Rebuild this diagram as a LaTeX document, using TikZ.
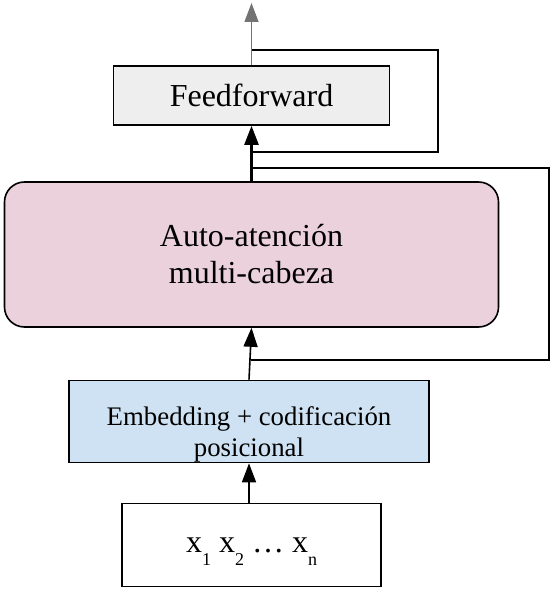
\documentclass[tikz,border=0pt]{standalone}
\usepackage{fontspec}
\setmainfont{Liberation Serif}
\usetikzlibrary{arrows.meta}

\definecolor{ffgray}{HTML}{EEEEEE}
\definecolor{attpink}{HTML}{EAD1DC}
\definecolor{embblue}{HTML}{CFE2F3}
\newcommand{\xsub}[1]{x\smash{\raisebox{-0.42em}{\fontsize{18}{18}\selectfont #1}}}

\begin{document}
\begin{tikzpicture}[x = 1pt, y = -1pt, line width = 1.6pt,
    >={Triangle[length = 19pt, width = 14pt]},
    box/.style = {draw, inner sep = 0pt, align = center}]
  \useasboundingbox (0, 0) rectangle (554, 593);
  \node (ff)  at (251.5,  95.5) [box, fill = ffgray, minimum width = 276pt, minimum height = 59pt,
    font = \fontsize{32}{37}\selectfont] {Feedforward};
  \node (att) at (251.5, 254.5) [box, fill = attpink, rounded corners = 20pt, minimum width = 494pt,
    minimum height = 145pt, font = \fontsize{32}{37}\selectfont] {Auto-atención\\multi-cabeza};
  \node (emb) at (249, 421.5) [box, fill = embblue, minimum width = 360pt, minimum height = 82pt,
    font = \fontsize{26.8}{31}\selectfont] {\rule{0pt}{44pt}Embedding + codificación\\posicional};
  \node (in)  at (251.5, 545) [box, minimum width = 259pt, minimum height = 83pt,
    font = \fontsize{32}{36}\selectfont] {\xsub{1} \xsub{2} \dots\ \xsub{n}};
  \coordinate (out) at (251.5, 3);
  \coordinate (r1a) at (250.5, 360);
  \coordinate (r1b) at (251.5, 168);
  \coordinate (r2a) at (251.5, 152);
  \coordinate (r2b) at (251.5, 50);
  \draw [->] (emb.south |- in.north) -- (emb.south);
  \draw [->] (emb.north) -- (att.south);
  \draw [->, line width = 2.4pt] (att.north) -- (ff.south);
  \draw [->, draw = black!55, fill = black!60, line width = 1.4pt] (ff.north) -- (out);
  \draw (r1a) -- (549, 360) -- (549, 168) -- (r1b);
  \draw (r2a) -- (438, 152) -- (438, 50) -- (r2b);
\end{tikzpicture}
\end{document}
